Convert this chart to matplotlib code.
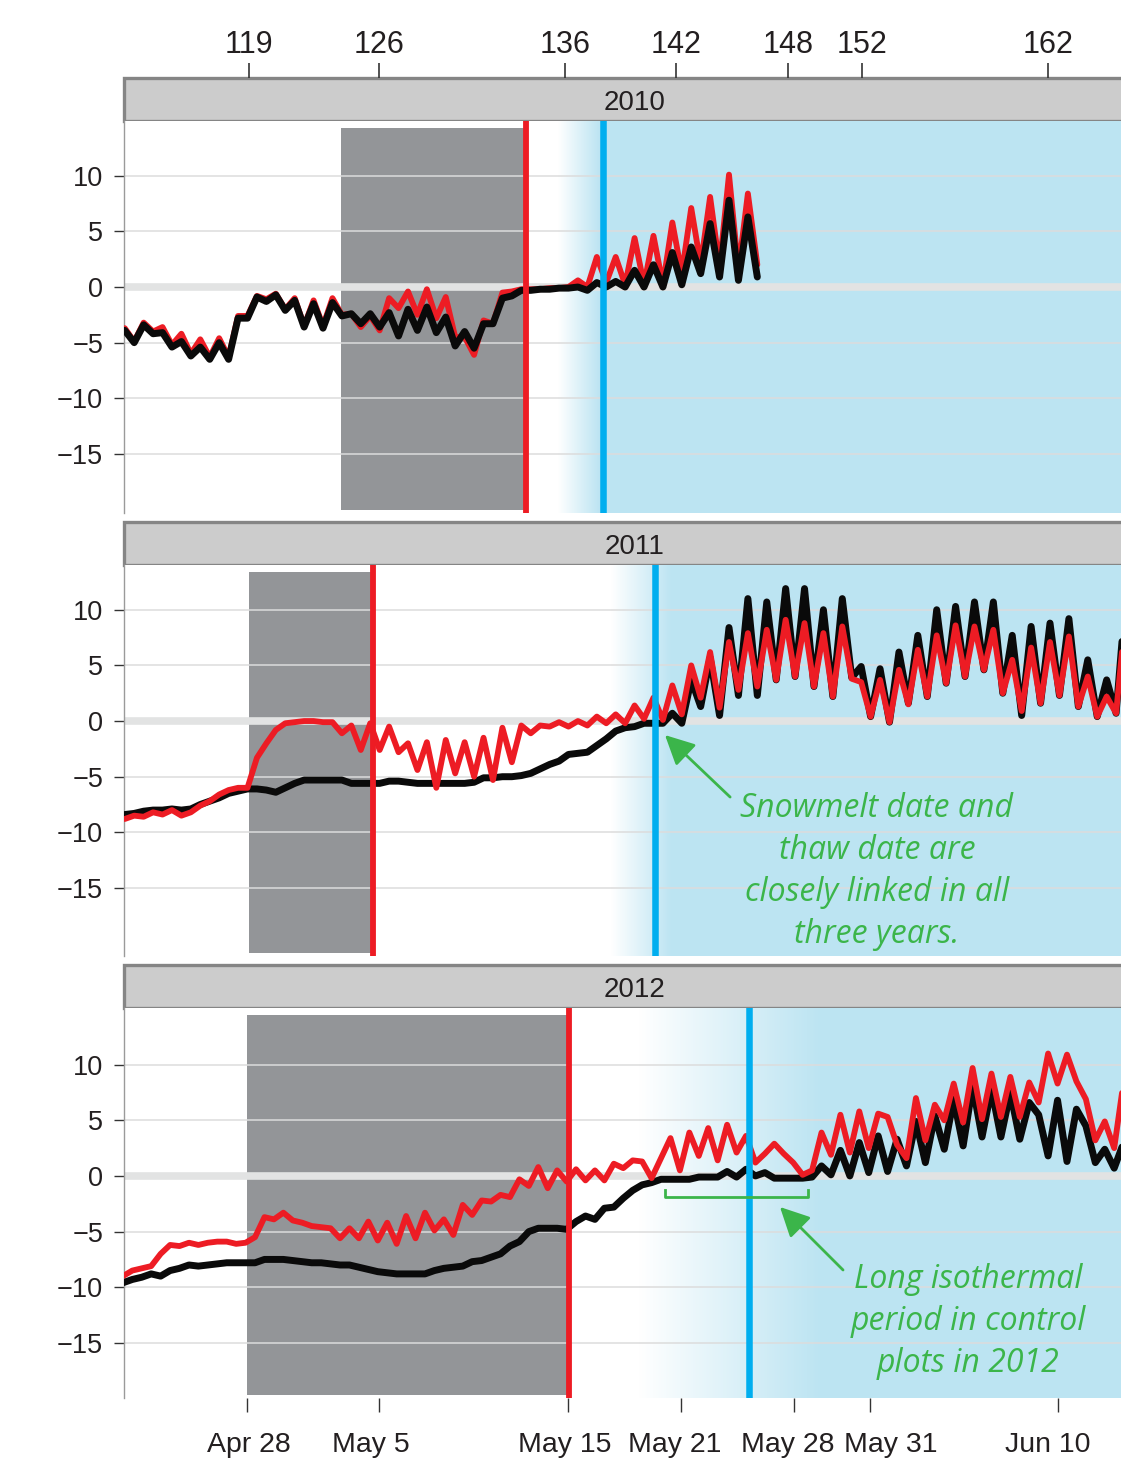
import numpy as np
import matplotlib.pyplot as plt
import matplotlib.transforms as mtransforms
from matplotlib.colors import LinearSegmentedColormap
from matplotlib.patches import Rectangle

plt.rcParams['font.family'] = ['Liberation Sans', 'DejaVu Sans']

# soil temperature (deg C), half-day steps (peak / trough)
# x axis is day of year
black_2010 = [-3.9, -5.0, -3.4, -4.2, -4.1, -5.4, -4.9, -6.2, -5.4, -6.5,
              -5.0, -6.5, -2.8, -2.8, -0.9, -1.3, -0.7, -2.1, -1.2, -3.6,
              -1.5, -3.7, -1.4, -2.6, -2.4, -3.3, -2.4, -3.6, -2.3, -4.4,
              -2.0, -3.9, -1.8, -4.1, -2.7, -5.3, -4.0, -5.5, -3.3, -3.3,
              -1.0, -0.8, -0.3, -0.3, -0.2, -0.2, -0.1, -0.1, 0.0, -0.3,
              0.4, 0.0, 0.5, 0.0, 1.5, 0.0, 2.0, 0.0, 3.1, 0.2,
              3.6, 1.2, 5.7, 0.9, 7.8, 0.6, 6.3, 0.9]
red_2010 = [-3.7, -4.9, -3.2, -4.0, -3.6, -5.2, -4.2, -6.0, -4.7, -6.3,
            -4.6, -6.3, -2.6, -2.6, -0.8, -1.1, -0.6, -2.0, -1.0, -3.5,
            -1.2, -3.5, -1.0, -2.5, -2.4, -3.6, -2.6, -3.9, -1.0, -1.9,
            -0.4, -2.5, -0.2, -2.8, -0.9, -4.5, -4.5, -6.1, -3.0, -3.3,
            -0.5, -0.4, -0.2, -0.2, -0.2, -0.1, -0.1, 0.0, 0.6, 0.0,
            2.7, 0.4, 2.7, 0.2, 4.4, 0.2, 4.6, 0.2, 5.8, 1.2,
            7.1, 2.0, 8.1, 1.8, 10.1, 1.5, 8.4, 2.0]

black_2011 = [-8.4, -8.3, -8.1, -8.0, -8.0, -7.9, -8.0, -7.9, -7.5, -7.2,
              -6.9, -6.5, -6.3, -6.1, -6.1, -6.2, -6.4, -6.0, -5.6, -5.3,
              -5.3, -5.3, -5.3, -5.3, -5.6, -5.6, -5.6, -5.6, -5.4, -5.4,
              -5.5, -5.6, -5.6, -5.6, -5.6, -5.6, -5.6, -5.5, -5.1, -5.1,
              -5.0, -5.0, -4.9, -4.7, -4.3, -3.9, -3.6, -3.0, -2.9, -2.8,
              -2.2, -1.6, -0.9, -0.6, -0.5, -0.2, -0.2, -0.2, 0.7, -0.2,
              3.7, 1.3, 5.7, 0.5, 8.4, 2.3, 11.0, 2.3, 10.7, 3.7,
              11.9, 4.0, 11.9, 3.1, 10.0, 2.2, 11.0, 3.9, 4.9, 0.4,
              4.7, -0.1, 6.2, 1.6, 7.7, 2.2, 10.0, 3.4, 10.3, 4.0,
              10.7, 4.6, 10.7, 2.5, 7.7, 0.5, 8.5, 1.6, 8.8, 2.3,
              9.2, 1.3, 5.5, 0.4, 3.7, 0.7, 11.0]
red_2011 = [-8.8, -8.5, -8.6, -8.2, -8.4, -8.0, -8.5, -8.2, -7.6, -7.2,
            -6.6, -6.2, -6.0, -6.0, -3.3, -2.0, -0.8, -0.2, -0.1, 0.0,
            0.0, -0.1, -0.1, -1.1, -0.4, -2.6, -0.2, -2.6, -0.5, -2.8,
            -2.0, -4.4, -1.9, -6.0, -1.7, -4.7, -1.9, -5.0, -1.5, -5.3,
            -0.6, -3.7, -0.4, -1.1, -0.4, -0.5, -0.1, -0.5, 0.0, -0.4,
            0.4, -0.2, 0.6, -0.2, 1.4, 0.2, 2.1, 0.1, 3.2, 0.6,
            5.0, 2.1, 6.2, 1.2, 7.1, 2.8, 7.9, 3.1, 8.2, 3.7,
            9.1, 4.0, 8.8, 3.1, 7.9, 2.2, 8.5, 3.8, 3.5, 0.4,
            3.7, -0.1, 4.6, 1.5, 6.4, 2.2, 7.7, 3.4, 8.6, 4.0,
            8.5, 4.6, 8.2, 2.5, 5.5, 0.9, 6.6, 1.6, 7.1, 2.3,
            7.6, 1.3, 4.0, 0.4, 2.2, 0.7, 9.5]

black_2012 = [-9.6, -9.3, -9.1, -8.8, -9.0, -8.5, -8.3, -8.0, -8.1, -8.0,
              -7.9, -7.8, -7.8, -7.8, -7.8, -7.5, -7.5, -7.5, -7.6, -7.7,
              -7.8, -7.8, -7.9, -8.0, -8.0, -8.2, -8.4, -8.6, -8.7, -8.8,
              -8.8, -8.8, -8.8, -8.5, -8.3, -8.2, -8.1, -7.7, -7.6, -7.3,
              -7.0, -6.3, -5.9, -5.0, -4.7, -4.7, -4.7, -4.8, -4.1, -3.6,
              -3.9, -2.9, -2.8, -2.0, -1.3, -0.8, -0.6, -0.3, -0.3, -0.3,
              -0.3, -0.1, -0.1, -0.1, 0.4, -0.1, 0.6, 0.0, 0.3, -0.2,
              -0.2, -0.2, -0.2, -0.1, 0.9, 0.1, 2.3, 0.0, 3.0, 0.3,
              3.6, 0.4, 3.3, 0.9, 4.9, 1.2, 5.4, 2.4, 6.9, 2.7,
              8.1, 3.5, 7.8, 3.5, 7.5, 3.3, 6.6, 5.5, 1.8, 6.8,
              1.3, 6.0, 4.5, 1.2, 2.4, 0.7, 3.0]
red_2012 = [-9.0, -8.5, -8.3, -8.1, -7.0, -6.2, -6.3, -6.0, -6.2, -6.0,
            -5.9, -5.9, -6.1, -6.0, -5.5, -3.7, -3.9, -3.3, -4.0, -4.2,
            -4.5, -4.6, -4.7, -5.6, -4.7, -5.6, -4.1, -5.8, -4.2, -6.1,
            -3.6, -5.6, -3.3, -4.9, -3.9, -5.3, -2.6, -3.5, -2.2, -2.3,
            -1.7, -1.9, -0.3, -0.9, 0.8, -1.1, 0.5, -0.5, 0.6, -0.4,
            0.5, -0.4, 1.1, 0.7, 1.4, 1.3, -0.2, 1.6, 3.4, 0.5,
            3.9, 1.8, 4.3, 1.4, 4.6, 2.1, 3.6, 1.2, 2.0, 2.9,
            2.0, 1.2, 0.1, 0.5, 3.9, 1.9, 5.5, 2.1, 5.8, 2.5,
            5.6, 5.3, 2.8, 1.6, 7.0, 3.2, 6.4, 5.0, 8.3, 4.8,
            9.7, 5.1, 9.2, 5.3, 8.9, 5.3, 8.4, 6.6, 11.0, 8.3,
            10.9, 8.5, 6.9, 3.2, 4.9, 2.5, 8.5]

start_day = {2010: 111.55, 2011: 111.55, 2012: 111.45}

# treatment period (grey), thaw date (red), snowmelt date (blue)
shade = {2010: (123.0, 132.69), 2011: (118.13, 124.59), 2012: (118.02, 134.97)}
thaw_day = {2010: 132.8, 2011: 124.69, 2012: 135.08}
melt_day = {2010: 136.88, 2011: 139.63, 2012: 144.61}
fade = {2010: (134.5, 136.7), 2011: (137.3, 140.5), 2012: (138.8, 148.4)}
ylims = {2010: (-20.31, 14.92), 2011: (-21.11, 14.02), 2012: (-19.95, 15.09)}

top_labels = [119, 126, 136, 142, 148, 152, 162]
bottom_labels = ['Apr 28', 'May 5', 'May 15', 'May 21', 'May 28', 'May 31', 'Jun 10']
bottom_days = [118, 125, 135, 141, 147, 151, 161]
# the date labels sit a little off their ticks in the original
bottom_label_x = [118.13, 124.59, 134.86, 140.69, 146.67, 152.12, 160.44]

XMIN, XMAX = 111.51, 164.31
RED = '#ed1c24'
BLUE = '#00aeef'
SKY = '#bce4f2'
GREEN = '#3bb54a'
TXT = '#231f20'


def top_pos(d):
    # the upper day-of-year axis is drawn at a slightly different scale
    return 118 + (18.58 * d - 1962 - 246.6) / 18.88


W, H = 1121, 1466
fig = plt.figure(figsize=(W / 100, H / 100), dpi=100)


def box(x0, y0, x1, y1):
    return [x0 / W, 1 - y1 / H, (x1 - x0) / W, (y1 - y0) / H]


bodies = {2010: (121, 513), 2011: (565, 956), 2012: (1008, 1398)}
series = {2010: (black_2010, red_2010), 2011: (black_2011, red_2011),
          2012: (black_2012, red_2012)}
fade_cmap = LinearSegmentedColormap.from_list('fade', ['white', SKY])

axes = {}
for year in [2010, 2011, 2012]:
    top, bot = bodies[year]

    # strip header
    hax = fig.add_axes(box(124, top - 43, 1121, top))
    hax.set_xlim(XMIN, XMAX)
    hax.set_ylim(0, 1)
    for s in hax.spines.values():
        s.set_visible(False)
    hax.add_patch(Rectangle((0, 0), 1.1, 1, transform=hax.transAxes,
                            facecolor='#cccccc', edgecolor='#858585',
                            lw=2.4, clip_on=False))
    hax.text(138.55, 0.42, str(year), ha='center', va='center',
             fontsize=20, color=TXT)
    hax.set_yticks([])
    if year == 2010:
        hax.xaxis.set_ticks_position('top')
        hax.set_xticks([top_pos(d) for d in top_labels])
        hax.set_xticklabels([str(d) for d in top_labels])
        hax.tick_params(axis='x', direction='out', length=11, width=1.2,
                        color='#333333', labelsize=22, labelcolor=TXT, pad=2)
    else:
        hax.set_xticks([])

    ax = fig.add_axes(box(124, top, 1121, bot))
    axes[year] = ax
    lo, hi = ylims[year]

    # backgrounds
    g0, g1 = fade[year]
    ax.imshow(np.linspace(0, 1, 256).reshape(1, -1), extent=[g0, g1, lo, hi],
              cmap=fade_cmap, aspect='auto', zorder=0.5, interpolation='bilinear')
    ax.axvspan(g1, XMAX + 2, color=SKY, lw=0, zorder=0.5)
    ax.axvspan(*shade[year], ymin=3 / 392, ymax=1 - 7 / 392,
               color='#939598', lw=0, zorder=1)

    for y in [10, 5, -5, -10, -15]:
        ax.axhline(y, color='#dcdcdc', lw=1.1, zorder=2)
    ax.axhline(0, color='#e2e3e3', lw=5.5, zorder=2.5)

    t = start_day[year] + 0.5 * np.arange(len(series[year][0]))
    blk, red = series[year]
    red_top = year != 2010
    ax.plot(t, blk, color='#0a0a0a', lw=5.0, solid_joinstyle='round',
            solid_capstyle='round', zorder=3 if red_top else 4)
    ax.plot(t, red, color=RED, lw=4.2, solid_joinstyle='round',
            solid_capstyle='round', zorder=4 if red_top else 3)

    ax.axvline(thaw_day[year], color=RED, lw=4.2, zorder=5)
    ax.axvline(melt_day[year], color=BLUE, lw=4.7, zorder=5)

    ax.set_xlim(XMIN, XMAX)
    ax.set_ylim(lo, hi)
    for side in ['top', 'right', 'bottom']:
        ax.spines[side].set_visible(False)
    ax.spines['left'].set_color('#9a9a9a')
    ax.spines['left'].set_linewidth(1.0)
    ax.set_yticks([-15, -10, -5, 0, 5, 10])
    ax.tick_params(axis='y', direction='out', length=7, width=1.0,
                   color='#333333', labelsize=19.5, labelcolor=TXT, pad=8)
    if year == 2012:
        ax.set_xticks(bottom_days)
        ax.tick_params(axis='x', direction='out', length=10, width=1.0,
                       color='#333333', labelbottom=False)
        trans = mtransforms.blended_transform_factory(ax.transData, ax.transAxes)
        for lx, lab in zip(bottom_label_x, bottom_labels):
            ax.text(lx, -47 / 390, lab, transform=trans, ha='center',
                    va='center', fontsize=20.5, color=TXT)
    else:
        ax.set_xticks([])

arrow = dict(arrowstyle='-|>,head_length=0.9,head_width=0.45', color=GREEN,
             lw=2.0, shrinkA=0, shrinkB=0, mutation_scale=20)
note = dict(ha='center', va='center', color=GREEN, fontsize=23,
            style='italic', family=['Open Sans', 'DejaVu Sans'],
            linespacing=1.36, zorder=7)

ax = axes[2011]
ax.annotate('', xy=(140.16, -1.26), xytext=(143.61, -6.83),
            arrowprops=arrow, zorder=7)
ax.text(151.38, -13.55, 'Snowmelt date and\nthaw date are\nclosely linked in all\nthree years.',
        **note)

ax = axes[2012]
ax.plot([140.16, 140.16, 147.73, 147.73], [-1.26, -1.89, -1.89, -1.26],
        color=GREEN, lw=2.0, zorder=6)
ax.annotate('', xy=(146.25, -2.79), xytext=(149.59, -8.45),
            arrowprops=arrow, zorder=7)
ax.text(156.21, -13.1, 'Long isothermal\nperiod in control\nplots in 2012', **note)

fig.savefig('out.png', dpi=100)
